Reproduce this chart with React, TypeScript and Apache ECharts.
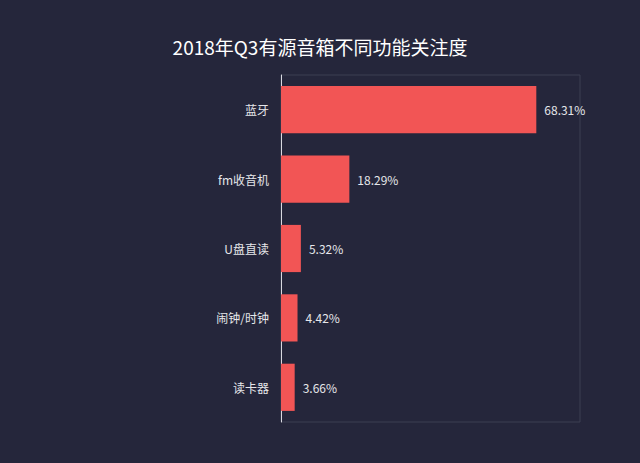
import React, { useEffect, useRef } from "react";
import * as echarts from "echarts";

const titleText = "2018年Q3有源音箱不同功能关注度";
const categories = ["蓝牙", "fm收音机", "U盘直读", "闹钟/时钟", "读卡器"];
const values = [68.31, 18.29, 5.32, 4.42, 3.66];

export default function App() {
  const ref = useRef<HTMLDivElement>(null);
  useEffect(() => {
    const chart = echarts.init(ref.current!, null, { renderer: "svg" });
    chart.setOption({
      animation: false,
      backgroundColor: "#25263b",
      textStyle: { fontFamily: "'Noto Sans CJK SC', 'Noto Sans', sans-serif" },
      title: {
        text: titleText,
        left: "center",
        top: 32,
        textStyle: { color: "#ffffff", fontSize: 19, fontWeight: "normal" },
      },
      grid: {
        left: 281,
        right: 60,
        top: 75,
        bottom: 41,
        show: true,
        borderColor: "#3c3e52",
        borderWidth: 1,
      },
      xAxis: {
        type: "value",
        min: 0,
        max: 80,
        show: false,
        splitLine: { show: false },
      },
      yAxis: {
        type: "category",
        data: categories,
        inverse: true,
        axisLine: { show: true, lineStyle: { color: "#d8d8e0", width: 1 } },
        axisTick: { show: false },
        axisLabel: { color: "#e6e6ea", fontSize: 12, margin: 12 },
        splitLine: { show: false },
      },
      series: [
        {
          type: "bar",
          data: values,
          barWidth: "68%",
          itemStyle: { color: "#f25555" },
          label: {
            show: true,
            position: "right",
            distance: 8,
            color: "#e6e6ea",
            fontSize: 12,
            formatter: (p: any) => p.value.toFixed(2) + "%",
          },
        },
      ],
    });
    return () => chart.dispose();
  }, []);
  return (
    <div
      ref={ref}
      style={{ position: "fixed", left: 0, top: 0, width: 640, height: 463 }}
    />
  );
}
